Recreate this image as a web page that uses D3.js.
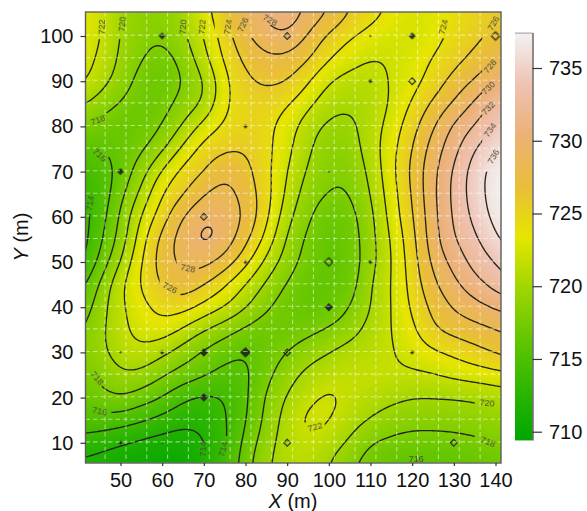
<!DOCTYPE html>
<html><head><meta charset="utf-8">
<script src="https://cdnjs.cloudflare.com/ajax/libs/d3/7.8.5/d3.min.js"></script>
<style>html,body{margin:0;padding:0;background:#fff}svg{display:block}text{font-family:"Liberation Sans",Arial,sans-serif}</style>
</head><body><svg id="c" width="587" height="511"></svg>
<script>
const xNodes=[40,45,50,55,60,65,70,75,80,85,90,95,100,105,110,115,120,125,130,135,140,145];
const yNodes=[105,100,95,90,85,80,75,70,65,60,55,50,45,40,35,30,25,20,15,10,5];
const z105=[723.6,722.3,720,719,718.9,720,723.2,725.8,729,730.5,731.2,729.6,728,726,724.8,723.6,722.8,723,724,725,725.8,726.5];
const z100=[723.5,722.2,719.8,718.6,718.2,719.6,722,725,727.6,729.2,729.9,727.7,725.5,724.2,723.2,722.6,722.4,723.2,724.6,725.5,726.5,727.3];
const z95=[723,721.7,719.6,718.1,717.3,718.6,721.4,724.4,726.5,727.6,727.4,726.2,724.2,722.9,722,722.2,723,724.1,725.3,726.5,727.8,729];
const z90=[722.7,720.9,719.1,717.2,716.8,718,719.8,723.5,725.6,726.3,726.1,724.2,722,721.2,721.1,722.2,723.2,724.8,726.7,728.2,730,731.5];
const z85=[720.4,719,717.8,717,717.2,718.8,720.1,723.8,725,725.2,724.2,722.5,720.8,720.3,720.7,722.2,724.2,726.4,728.2,730.4,732.4,734];
const z80=[718.2,717.3,716.8,716.8,718,720.2,722.8,724.4,724.9,724.6,723,720.9,719.5,719.5,721,722.8,725.3,727.8,730.4,732.1,734.2,736];
const z75=[715.6,715.9,716.7,717.6,719.6,722.5,724.8,725.7,725.9,724.6,722.6,720.3,718.8,719,721,723.3,726,728.9,731.3,734,735.8,737];
const z70=[714.4,714.9,716.6,719.1,722.3,724.7,725.9,727.7,726.6,724.6,722,719.7,718.4,718.4,720.5,723.4,726.5,729.4,732.3,735,736.9,738];
const z65=[713.2,714.6,717.4,720.5,724.1,725.7,728,728.8,727.2,724.9,721.5,719,717.9,717.9,720,723.1,726.1,729.6,732.5,735,737,738.2];
const z60=[713,715,718.3,722.2,725,728.1,729.8,729.5,727.7,724.5,720.6,718.3,716.7,717.3,719.4,722.8,725.8,729.3,732.3,734.5,736.7,738];
const z55=[712.7,715.6,718.7,723.2,726.7,729,730.65,729.4,726.5,723.4,719.6,717.6,716.4,716.9,719.3,722.2,725.3,729.2,731.9,733.6,735.6,737.5];
const z50=[713.2,716.5,720,724,726.9,728.6,728.7,727.1,724.7,721.4,719,717.2,716.3,716.8,719.2,722,725,728.5,730.6,732.8,734,735.5];
const z45=[715,718.3,721.6,724.3,726.2,727.3,726,724.2,721.8,719.6,717.8,716.5,716.4,716.9,720,722,724.7,727.6,729.5,731.2,732.8,734];
const z40=[716.5,719,721.6,723.3,724.7,724.8,723.4,722,720.2,718.3,717,716.5,716.6,718,720,722,724.3,726.5,728.2,729.2,730.2,731];
const z35=[717.6,719.5,721.4,722.8,723.2,721.7,720,718.8,717.5,716.8,717,717.4,718.2,719.2,720.7,722,723.5,725.8,726.7,727.3,727.9,728.5];
const z30=[718.4,719.4,721,721.5,720.4,719,717.7,716.7,716,717,718,719.1,720,720.8,721.2,721.8,722.8,723.6,724.4,725.3,726.2,727];
const z25=[717.2,718.4,719.7,719.5,718.2,717.2,716.3,715.3,715.6,717.4,719.2,720.6,721.3,721.6,721.8,721.7,721.7,721.9,722.5,722.9,723.3,723.7];
const z20=[716.7,717.3,718,717,716,714.3,713.6,714,715.6,718.3,720.2,721.5,722.4,721.6,721,720.5,720,720,720,720.2,720.6,721];
const z15=[715.5,715.3,714.9,714.2,713.3,712.5,712.6,713.8,715.8,718.6,720.8,722.6,722.2,720.9,719.9,719,718.7,718.7,718.8,719,719.3,719.6];
const z10=[713,712.7,712.2,711.6,711.2,711.1,711.8,713.6,716.6,719.2,721,721.7,721,719.7,718,717.6,717.2,717.2,717.3,717.6,717.9,718.3];
const z5=[711.6,711.2,710.6,710.2,710,710.2,711.9,714,717.2,719.8,720.9,721.1,720,718.3,717.1,716.2,715.8,715.8,716.1,716.5,716.9,717.3];
const zRows=[z105,z100,z95,z90,z85,z80,z75,z70,z65,z60,z55,z50,z45,z40,z35,z30,z25,z20,z15,z10,z5];

const xTicks=[50,60,70,80,90,100,110,120,130,140];
const yTicks=[10,20,30,40,50,60,70,80,90,100];
const colorTicks=[710,715,720,725,730,735];
const levels=[712,714,716,718,720,722,724,726,728,730,732,734,736];
const terrain=["#00A600","#2EB600","#63C600","#A0D600","#E6E600","#E9BD3A","#ECB176","#EFC2B3","#F2F2F2"];
const zMin=709.4, zMax=737.4;
const gridXs=d3.range(46.3,141,5);
const gridYs=d3.range(10.2,101,5);
// measured points: x, y, kind (d small dot, f filled diamond, o open diamond)
const pts=[[60,100,"f"],[90,100,"o"],[110,100,"t"],[120,100,"f"],[140,100,"O"],[110,90,"d"],[120,90,"o"],[80,80,"d"],
[50,70,"f"],[100,70,"t"],[70,60,"o"],[80,50,"d"],[100,50,"O"],[110,50,"d"],[100,40,"F"],[50,30,"t"],[60,30,"d"],[70,30,"F"],
[80,30,"G"],[90,30,"o"],[120,30,"d"],[70,20,"F"],[50,10,"d"],[60,10,"t"],[90,10,"o"],[130,10,"o"]];
// contour labels: text, x, y, angle
const labels=[["722",45.5,102,-88],["720",50.4,102.6,-85],["720",65,102,-85],["722",69.6,102,-85],["724",75.8,102,-80],["726",79.4,102.5,-65],["728",85.9,103.5,30],
["718",44.6,81.4,-20],["716",45,73.7,42],["714",42.7,63,-80],["724",127.5,102,-75],["726",139.5,102.8,-60],["728",138.7,93.3,-50],["730",138.3,88.5,-45],
["732",138.3,84,-45],["734",138.7,79.2,-55],["736",139.5,73.3,-60],["718",44.4,24.3,50],["716",45,17,12],["714",69.8,8.6,-88],["714",74.6,8.6,-75],
["728",66.2,48.6,12],["726",61.9,44.3,28],["720",138,18.8,6],["718",138.2,10.2,22],["716",121,6.4,0],["722",96.7,13.5,-15]];
// parts of the contour lines left open for the labels: x0,x1,y0,y1
const gaps=[[41,48,99.3,106],[48,53,99.3,106],[63,71,99.3,106],[72.6,82,99.6,106],[83,88,102.4,106],[124,132,99.5,106],[136.8,142,70,106],
[41,47.5,78,83],[41,48.3,73.2,78],[41,46,60.6,72],[41,45.5,21.6,28],[41,47.8,14,18.5],[67,72.5,5,10.2],[72.5,78,5,11.5],[135,142,8,20.5],[120.2,142,5,8],
[94,99,9,14.5],[63.5,68.8,46.5,51],[59.4,64.4,41.5,46.5]];

function clampIdx(i,n){return Math.max(0,Math.min(n-1,i));}
function cr(a,b,c,d,t){return 0.5*(2*b+(c-a)*t+(2*a-5*b+4*c-d)*t*t+(3*b-a-3*c+d)*t*t*t);}
function field(x,y){
  const fx=Math.max(0,Math.min(xNodes.length-1.0001,(x-xNodes[0])/5));
  const fy=Math.max(0,Math.min(yNodes.length-1.0001,(yNodes[0]-y)/5));
  const i=Math.floor(fx),j=Math.floor(fy),tx=fx-i,ty=fy-j,v=[];
  for(let r=-1;r<=2;r++){const row=zRows[clampIdx(j+r,zRows.length)];
    v.push(cr(row[clampIdx(i-1,22)],row[clampIdx(i,22)],row[clampIdx(i+1,22)],row[clampIdx(i+2,22)],tx));}
  return cr(v[0],v[1],v[2],v[3],ty);
}

const svg=d3.select("#c");
const L=85.5,R=501,T=12,B=463;
const x=d3.scaleLinear().domain([50,140]).range([120.5,495.5]);
const y=d3.scaleLinear().domain([100,10]).range([36,442.8]);
const color=d3.scaleLinear().domain(terrain.map((c,i)=>zMin+(zMax-zMin)*i/(terrain.length-1))).range(terrain).interpolate(d3.interpolateRgb).clamp(true);

// fine field, lightly smoothed
const step=0.5,X0=35,X1=150,Y0=112,Y1=-2,m=Math.round((X1-X0)/step)+1,n=Math.round((Y0-Y1)/step)+1,vals=new Float64Array(m*n);
for(let j=0;j<n;j++)for(let i=0;i<m;i++)vals[j*m+i]=field(X0+i*step,Y0-j*step);
d3.blur2({data:vals,width:m,height:n},4);
function fine(px,py){
  const fx=(px-X0)/step,fy=(Y0-py)/step,i=Math.floor(fx),j=Math.floor(fy),a=fx-i,b=fy-j;
  return (1-a)*(1-b)*vals[j*m+i]+a*(1-b)*vals[j*m+i+1]+(1-a)*b*vals[(j+1)*m+i]+a*b*vals[(j+1)*m+i+1];
}

// raster of the field
const w=Math.round(R-L),h=Math.round(B-T);
const cv=document.createElement("canvas");cv.width=w;cv.height=h;
const ctx=cv.getContext("2d"),im=ctx.createImageData(w,h);
for(let j=0;j<h;j++)for(let i=0;i<w;i++){
  const c=d3.rgb(color(fine(x.invert(L+i+.5),y.invert(T+j+.5)))),k=(j*w+i)*4;
  im.data[k]=c.r;im.data[k+1]=c.g;im.data[k+2]=c.b;im.data[k+3]=255;
}
ctx.putImageData(im,0,0);
svg.append("image").attr("x",L).attr("y",T).attr("width",R-L).attr("height",B-T).attr("href",cv.toDataURL());

const defs=svg.append("defs");
defs.append("clipPath").attr("id","pc").append("rect").attr("x",L).attr("y",T).attr("width",R-L).attr("height",B-T);
defs.append("filter").attr("id","soft").append("feGaussianBlur").attr("stdDeviation",0.35);
const mask=defs.append("mask").attr("id","gm").attr("maskUnits","userSpaceOnUse").attr("x",0).attr("y",0).attr("width",587).attr("height",511);
mask.append("rect").attr("width",587).attr("height",511).attr("fill","#fff");
mask.selectAll("rect.g").data(gaps).join("rect").attr("class","g").attr("fill","#000")
 .attr("x",d=>x(d[0])).attr("width",d=>x(d[1])-x(d[0])).attr("y",d=>y(d[3])).attr("height",d=>y(d[2])-y(d[3]));

// contours
const cs=d3.contours().size([m,n]).thresholds(levels)(vals);
const tr=d3.geoTransform({point(px,py){this.stream.point(x(X0+(px-.5)*step),y(Y0-(py-.5)*step));}});
const path=d3.geoPath(tr);
const plot=svg.append("g").attr("clip-path","url(#pc)");
plot.append("g").attr("mask","url(#gm)").attr("filter","url(#soft)").selectAll("path").data(cs).join("path")
 .attr("d",path).attr("fill","none").attr("stroke","#23261a").attr("stroke-width",1.35);

// points
const sizes={t:2,d:7,f:14,F:24,G:40,o:24,O:34};
plot.append("g").selectAll("path").data(pts).join("path")
 .attr("transform",d=>`translate(${x(d[0])},${y(d[1])}) rotate(45)`)
 .attr("d",d=>d3.symbol(d3.symbolSquare,sizes[d[2]])())
 .attr("fill",d=>(d[2]==="o"||d[2]==="O")?"none":"#24301a")
 .attr("stroke","#24301a").attr("stroke-width",d=>(d[2]==="t"||d[2]==="d")?0.3:1.2).attr("filter","url(#soft)");

// measuring grid
const grid=plot.append("g").attr("stroke","#fff").attr("stroke-opacity",.5).attr("stroke-width",1.1).attr("stroke-dasharray","4.5 3");
grid.selectAll("line.v").data(gridXs).join("line").attr("class","v").attr("x1",d=>x(d)).attr("x2",d=>x(d)).attr("y1",T).attr("y2",B);
grid.selectAll("line.h").data(gridYs).join("line").attr("class","h").attr("y1",d=>y(d)).attr("y2",d=>y(d)).attr("x1",L).attr("x2",R);

// contour labels
plot.append("g").selectAll("text").data(labels).join("text").text(d=>d[0])
 .attr("transform",d=>`translate(${x(d[1])},${y(d[2])}) rotate(${d[3]})`)
 .attr("text-anchor","middle").attr("dy","0.35em").attr("font-size",9).attr("fill","#4a4f38").attr("filter","url(#soft)");

// frame and axes
svg.append("rect").attr("x",L).attr("y",T).attr("width",R-L).attr("height",B-T).attr("fill","none").attr("stroke","#5c5f58").attr("stroke-width",1.4);
const styleAxis=g=>{g.select(".domain").remove();g.selectAll("line").attr("stroke","#333").attr("stroke-width",1.2);
  g.selectAll("text").attr("font-size",20).attr("fill","#111").style("font-family",'"Liberation Sans",Arial,sans-serif');};
svg.append("g").attr("transform",`translate(${L},0)`).call(d3.axisLeft(y).tickValues(yTicks).tickSize(5).tickPadding(7)).call(styleAxis);
svg.append("g").attr("transform",`translate(0,${B})`).call(d3.axisBottom(x).tickValues(xTicks).tickSize(3).tickPadding(7)).call(styleAxis);

const xt=svg.append("text").attr("x",293).attr("y",508).attr("text-anchor","middle").attr("font-size",20).attr("fill","#111");
xt.append("tspan").attr("font-style","italic").text("X");xt.append("tspan").text(" (m)");
const yt=svg.append("text").attr("transform","translate(28,237) rotate(-90)").attr("text-anchor","middle").attr("font-size",20).attr("fill","#111");
yt.append("tspan").attr("font-style","italic").text("Y");yt.append("tspan").text(" (m)");

// colour bar
const bL=515,bR=532.5;
const cy=d3.scaleLinear().domain([710,735]).range([431.7,68]);
const barTop=cy(zMax),barBot=cy(zMin);
const gid=defs.append("linearGradient").attr("id","bar").attr("x1",0).attr("x2",0).attr("y1",1).attr("y2",0);
gid.selectAll("stop").data(terrain).join("stop").attr("offset",(d,i)=>i/(terrain.length-1)).attr("stop-color",d=>d);
svg.append("rect").attr("x",bL).attr("y",barTop).attr("width",bR-bL).attr("height",barBot-barTop).attr("fill","url(#bar)");
svg.append("line").attr("x1",bL).attr("x2",bR).attr("y1",barTop).attr("y2",barTop).attr("stroke","#999").attr("stroke-width",1);
const ca=svg.append("g").attr("transform",`translate(${bR},0)`).call(d3.axisRight(cy).tickValues(colorTicks).tickSize(9.5).tickPadding(7).tickSizeOuter(0));
ca.selectAll("line").attr("stroke","#333").attr("stroke-width",1.2);
ca.selectAll("text").attr("font-size",20).attr("fill","#111").style("font-family",'"Liberation Sans",Arial,sans-serif');
ca.select(".domain").attr("d",`M0.5,${barTop}V${barBot}`).attr("stroke","#444").attr("stroke-width",1.2);
</script></body></html>
